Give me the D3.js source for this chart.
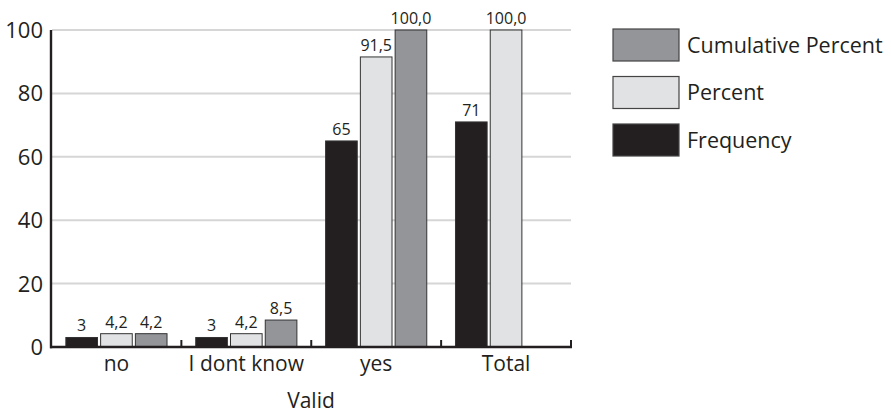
<!DOCTYPE html>
<html>
<head>
<meta charset="utf-8">
<script src="https://cdn.jsdelivr.net/npm/d3@7"></script>
<style>
  html, body { margin: 0; padding: 0; background: #fff; }
  svg { display: block; font-family: "Open Sans", sans-serif; }
</style>
</head>
<body>
<svg id="chart" width="891" height="413"></svg>
<script>
// Answers to the "Valid" question
const categories = ["no", "I dont know", "yes", "Total"];
const seriesNames = ["Frequency", "Percent", "Cumulative Percent"];
const frequency = [3, 3, 65, 71];
const percent = [4.2, 4.2, 91.5, 100.0];
const cumulativePercent = [4.2, 8.5, 100.0, null];
const yTicks = [0, 20, 40, 60, 80, 100];
const axisTitle = "Valid";

const seriesValues = [frequency, percent, cumulativePercent];
const fills = ["#231f20", "#e1e2e3", "#939598"];
const labelFormat = [d3.format("d"), v => d3.format(".1f")(v).replace(".", ","), v => d3.format(".1f")(v).replace(".", ",")];

const svg = d3.select("#chart");
const ink = "#231f20";

const x = d3.scaleBand().domain(categories).range([51.5, 571]).padding(0);
const xInner = d3.scaleBand().domain(seriesNames).range([0, x.bandwidth()])
  .paddingInner(0.09).paddingOuter(0.413);
const y = d3.scaleLinear().domain([0, 100]).range([347, 30]);

// Horizontal grid lines
svg.append("g").selectAll("line").data(yTicks.filter(t => t > 0)).join("line")
  .attr("x1", 52).attr("x2", 571)
  .attr("y1", d => y(d)).attr("y2", d => y(d))
  .attr("stroke", "#d6d6d6").attr("stroke-width", 2);

// Y tick labels
svg.append("g").selectAll("text").data(yTicks).join("text")
  .attr("x", 43).attr("y", d => y(d)).attr("dy", "0.36em")
  .attr("text-anchor", "end").attr("font-size", 22).attr("fill", ink)
  .text(d => d);

// Bars and value labels
const rows = [];
categories.forEach((c, i) => {
  seriesNames.forEach((s, j) => {
    const v = seriesValues[j][i];
    if (v != null) rows.push({ c, s, j, v });
  });
});

const bars = svg.append("g");
bars.selectAll("rect").data(rows).join("rect")
  .attr("x", d => x(d.c) + xInner(d.s))
  .attr("y", d => y(d.v))
  .attr("width", xInner.bandwidth())
  .attr("height", d => y(0) - y(d.v))
  .attr("fill", d => fills[d.j])
  .attr("stroke", "#333").attr("stroke-width", 1);

bars.selectAll("text").data(rows).join("text")
  .attr("x", d => x(d.c) + xInner(d.s) + xInner.bandwidth() / 2)
  .attr("y", d => y(d.v) - 6)
  .attr("text-anchor", "middle").attr("font-size", 16).attr("fill", ink)
  .text(d => labelFormat[d.j](d.v));

// Axes
svg.append("line").attr("x1", 51).attr("x2", 51).attr("y1", y(100)).attr("y2", y(0) + 1.3)
  .attr("stroke", ink).attr("stroke-width", 2.4);
svg.append("line").attr("x1", 50).attr("x2", 572).attr("y1", y(0)).attr("y2", y(0))
  .attr("stroke", ink).attr("stroke-width", 2.6);
svg.append("g").selectAll("line").data(categories).join("line")
  .attr("x1", d => x(d) + x.bandwidth()).attr("x2", d => x(d) + x.bandwidth())
  .attr("y1", y(0)).attr("y2", y(0) - 7)
  .attr("stroke", ink).attr("stroke-width", 2);

// Category labels and axis title
svg.append("g").selectAll("text").data(categories).join("text")
  .attr("x", d => x(d) + x.bandwidth() / 2).attr("y", 371)
  .attr("text-anchor", "middle").attr("font-size", 21).attr("fill", ink)
  .text(d => d);
svg.append("text").attr("x", 311).attr("y", 408)
  .attr("text-anchor", "middle").attr("font-size", 21).attr("fill", ink)
  .text(axisTitle);

// Legend (reverse series order)
const legend = svg.append("g").attr("transform", "translate(613,29)");
const legendItems = legend.selectAll("g").data(seriesNames.map((s, j) => ({ s, j })).reverse())
  .join("g").attr("transform", (d, i) => `translate(0,${i * 47.5})`);
legendItems.append("rect").attr("width", 66).attr("height", 32)
  .attr("fill", d => fills[d.j]).attr("stroke", "#444").attr("stroke-width", 1.2);
legendItems.append("text").attr("x", 74).attr("y", 16).attr("dy", "0.36em")
  .attr("font-size", 21.5).attr("fill", ink).text(d => d.s);
</script>
</body>
</html>
